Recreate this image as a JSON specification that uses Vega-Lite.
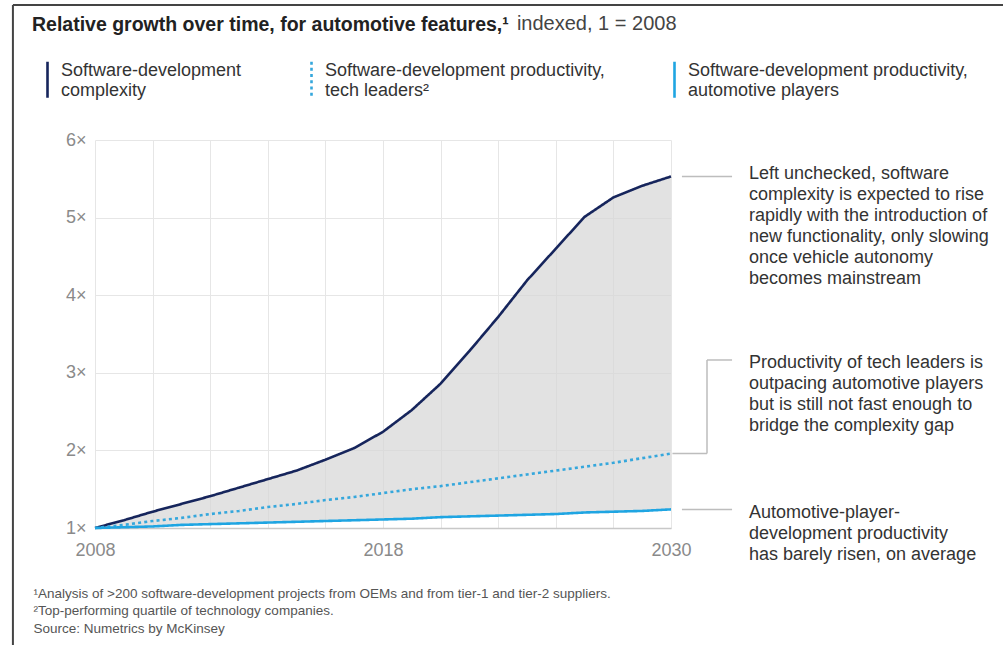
{
  "$schema": "https://vega.github.io/schema/vega-lite/v6.json",
  "width": 576,
  "height": 388,
  "autosize": {"type": "none"},
  "padding": {"left": 95, "top": 140, "right": 332, "bottom": 117},
  "background": "white",
  "title": {
    "text": "Relative growth over time, for automotive features,¹",
    "anchor": "start",
    "frame": "group",
    "orient": "top",
    "dx": -63,
    "offset": -32,
    "font": "Liberation Sans",
    "fontSize": 19.5,
    "fontWeight": "bold",
    "color": "#222222"
  },
  "config": {
    "view": {"stroke": null},
    "font": "Liberation Sans",
    "axis": {"gridColor": "#e6e6e6", "gridWidth": 1, "ticks": false}
  },
  "data": {
    "values": [
      {"step": 0, "series": "complexity", "value": 1.0},
      {"step": 1, "series": "complexity", "value": 1.1},
      {"step": 2, "series": "complexity", "value": 1.21},
      {"step": 3, "series": "complexity", "value": 1.31},
      {"step": 4, "series": "complexity", "value": 1.41},
      {"step": 5, "series": "complexity", "value": 1.52},
      {"step": 6, "series": "complexity", "value": 1.63},
      {"step": 7, "series": "complexity", "value": 1.74},
      {"step": 8, "series": "complexity", "value": 1.88},
      {"step": 9, "series": "complexity", "value": 2.03},
      {"step": 10, "series": "complexity", "value": 2.24},
      {"step": 11, "series": "complexity", "value": 2.52},
      {"step": 12, "series": "complexity", "value": 2.86},
      {"step": 13, "series": "complexity", "value": 3.28},
      {"step": 14, "series": "complexity", "value": 3.72},
      {"step": 15, "series": "complexity", "value": 4.19},
      {"step": 16, "series": "complexity", "value": 4.6},
      {"step": 17, "series": "complexity", "value": 5.01},
      {"step": 18, "series": "complexity", "value": 5.26},
      {"step": 19, "series": "complexity", "value": 5.41},
      {"step": 20, "series": "complexity", "value": 5.53},
      {"step": 0, "series": "leaders", "value": 1.0},
      {"step": 1, "series": "leaders", "value": 1.04},
      {"step": 2, "series": "leaders", "value": 1.09},
      {"step": 3, "series": "leaders", "value": 1.13},
      {"step": 4, "series": "leaders", "value": 1.18},
      {"step": 5, "series": "leaders", "value": 1.22},
      {"step": 6, "series": "leaders", "value": 1.27},
      {"step": 7, "series": "leaders", "value": 1.31},
      {"step": 8, "series": "leaders", "value": 1.36},
      {"step": 9, "series": "leaders", "value": 1.4},
      {"step": 10, "series": "leaders", "value": 1.45},
      {"step": 11, "series": "leaders", "value": 1.5},
      {"step": 12, "series": "leaders", "value": 1.54},
      {"step": 13, "series": "leaders", "value": 1.59},
      {"step": 14, "series": "leaders", "value": 1.64},
      {"step": 15, "series": "leaders", "value": 1.69},
      {"step": 16, "series": "leaders", "value": 1.74},
      {"step": 17, "series": "leaders", "value": 1.79},
      {"step": 18, "series": "leaders", "value": 1.84},
      {"step": 19, "series": "leaders", "value": 1.9},
      {"step": 20, "series": "leaders", "value": 1.96},
      {"step": 0, "series": "automotive", "value": 1.0},
      {"step": 1, "series": "automotive", "value": 1.01},
      {"step": 2, "series": "automotive", "value": 1.02},
      {"step": 3, "series": "automotive", "value": 1.04},
      {"step": 4, "series": "automotive", "value": 1.05},
      {"step": 5, "series": "automotive", "value": 1.06},
      {"step": 6, "series": "automotive", "value": 1.07},
      {"step": 7, "series": "automotive", "value": 1.08},
      {"step": 8, "series": "automotive", "value": 1.09},
      {"step": 9, "series": "automotive", "value": 1.1},
      {"step": 10, "series": "automotive", "value": 1.11},
      {"step": 11, "series": "automotive", "value": 1.12},
      {"step": 12, "series": "automotive", "value": 1.14},
      {"step": 13, "series": "automotive", "value": 1.15},
      {"step": 14, "series": "automotive", "value": 1.16},
      {"step": 15, "series": "automotive", "value": 1.17},
      {"step": 16, "series": "automotive", "value": 1.18},
      {"step": 17, "series": "automotive", "value": 1.2},
      {"step": 18, "series": "automotive", "value": 1.21},
      {"step": 19, "series": "automotive", "value": 1.22},
      {"step": 20, "series": "automotive", "value": 1.24}
    ]
  },
  "layer": [
    {
      "transform": [
        {"pivot": "series", "value": "value", "groupby": ["step"]}
      ],
      "mark": {"type": "area", "color": "#d6d6d6", "opacity": 0.7},
      "encoding": {
        "x": {
          "field": "step",
          "type": "quantitative",
          "scale": {"domain": [0, 20], "nice": false, "zero": false},
          "axis": {
            "values": [0, 1, 2, 3, 4, 5, 6, 7, 8, 9, 10, 11, 12, 13, 14, 15, 16, 17, 18, 19, 20],
            "labelExpr": "datum.value == 0 ? '2008' : datum.value == 10 ? '2018' : datum.value == 20 ? '2030' : ''",
            "labelFlush": false,
            "labelFontSize": 18,
            "labelColor": "#8a8a8a",
            "labelPadding": 13,
            "domainColor": "#c8c8c8",
            "domainWidth": 1.5,
            "title": [
              "¹Analysis of >200 software-development projects from OEMs and from tier-1 and tier-2 suppliers.",
              "²Top-performing quartile of technology companies.",
              "Source: Numetrics by McKinsey"
            ],
            "titleFont": "Liberation Sans",
            "titleFontSize": 13.5,
            "titleFontWeight": "normal",
            "titleColor": "#555555",
            "titleAnchor": "start",
            "titleAlign": "left",
            "titleBaseline": "alphabetic",
            "titleLineHeight": 17.5,
            "titleX": -62,
            "titleY": 69
          }
        },
        "y": {
          "field": "automotive",
          "type": "quantitative",
          "scale": {"domain": [1, 6], "nice": false, "zero": false},
          "axis": {
            "values": [1, 2, 3, 4, 5, 6],
            "labelExpr": "datum.value + '×'",
            "labelFontSize": 18,
            "labelColor": "#8a8a8a",
            "labelPadding": 9,
            "domain": false,
            "title": null
          }
        },
        "y2": {"field": "complexity"}
      }
    },
    {
      "mark": {"type": "line", "strokeWidth": 2.6},
      "encoding": {
        "x": {"field": "step", "type": "quantitative"},
        "y": {"field": "value", "type": "quantitative"},
        "color": {
          "field": "series",
          "type": "nominal",
          "scale": {
            "domain": ["complexity", "leaders", "automotive"],
            "range": ["#16255c", "#35a7dc", "#1fa5e2"]
          },
          "legend": {
            "orient": "none",
            "direction": "horizontal",
            "legendX": -67,
            "legendY": -80,
            "title": null,
            "padding": 0,
            "symbolType": "M0,-1L0,1",
            "symbolSize": 1296,
            "symbolStrokeWidth": 2.6,
            "labelOffset": -6,
            "columnPadding": 50,
            "labelFontSize": 18,
            "labelColor": "#333333",
            "labelLimit": 400,
            "labelBaseline": "bottom",
            "labelExpr": "datum.label == 'complexity' ? ['Software-development', 'complexity'] : datum.label == 'leaders' ? ['Software-development productivity,', 'tech leaders²'] : ['Software-development productivity,', 'automotive players']"
          }
        },
        "strokeDash": {
          "field": "series",
          "type": "nominal",
          "scale": {
            "domain": ["complexity", "leaders", "automotive"],
            "range": [[1, 0], [3, 3.2], [1, 0]]
          }
        }
      }
    },
    {
      "data": {"values": [{}]},
      "mark": {"type": "rule", "color": "#bdbdbd", "strokeWidth": 1.5},
      "encoding": {
        "x": {"datum": 20.38},
        "x2": {"datum": 22.12},
        "y": {"datum": 5.53}
      }
    },
    {
      "data": {"values": [{}]},
      "mark": {"type": "rule", "color": "#bdbdbd", "strokeWidth": 1.5},
      "encoding": {
        "x": {"datum": 20.38},
        "x2": {"datum": 22.12},
        "y": {"datum": 1.24}
      }
    },
    {
      "data": {"values": [{}]},
      "mark": {"type": "rule", "color": "#bdbdbd", "strokeWidth": 1.5},
      "encoding": {
        "x": {"datum": 20.05},
        "x2": {"datum": 21.25},
        "y": {"datum": 1.96}
      }
    },
    {
      "data": {"values": [{}]},
      "mark": {"type": "rule", "color": "#bdbdbd", "strokeWidth": 1.5},
      "encoding": {
        "x": {"datum": 21.25},
        "y": {"datum": 1.96},
        "y2": {"datum": 3.165}
      }
    },
    {
      "data": {"values": [{}]},
      "mark": {"type": "rule", "color": "#bdbdbd", "strokeWidth": 1.5},
      "encoding": {
        "x": {"datum": 21.25},
        "x2": {"datum": 22.12},
        "y": {"datum": 3.165}
      }
    },
    {
      "data": {
        "values": [
          {"note": "Left unchecked, software\ncomplexity is expected to rise\nrapidly with the introduction of\nnew functionality, only slowing\nonce vehicle autonomy\nbecomes mainstream", "at": 5.497},
          {"note": "Productivity of tech leaders is\noutpacing automotive players\nbut is still not fast enough to\nbridge the complexity gap", "at": 3.062},
          {"note": "Automotive-player-\ndevelopment productivity\nhas barely risen, on average", "at": 1.129}
        ]
      },
      "mark": {
        "type": "text",
        "align": "left",
        "baseline": "alphabetic",
        "dx": 78,
        "fontSize": 18,
        "lineHeight": 21,
        "lineBreak": "\n",
        "color": "#333333"
      },
      "encoding": {
        "x": {"datum": 20},
        "y": {"field": "at", "type": "quantitative"},
        "text": {"field": "note"}
      }
    },
    {
      "data": {"values": [{}]},
      "mark": {
        "type": "text",
        "align": "left",
        "baseline": "middle",
        "font": "Liberation Sans",
        "fontSize": 20,
        "color": "#444444",
        "text": "indexed, 1 = 2008"
      },
      "encoding": {
        "x": {"datum": 14.65},
        "y": {"datum": 7.5}
      }
    },
    {
      "data": {"values": [{}]},
      "mark": {"type": "rule", "color": "#444444", "strokeWidth": 2},
      "encoding": {
        "x": {"datum": -2.85},
        "x2": {"datum": 31.6},
        "y": {"datum": 7.74}
      }
    },
    {
      "data": {"values": [{}]},
      "mark": {"type": "rule", "color": "#444444", "strokeWidth": 2},
      "encoding": {
        "x": {"datum": -2.85},
        "y": {"datum": 7.74},
        "y2": {"datum": -0.6}
      }
    }
  ]
}
